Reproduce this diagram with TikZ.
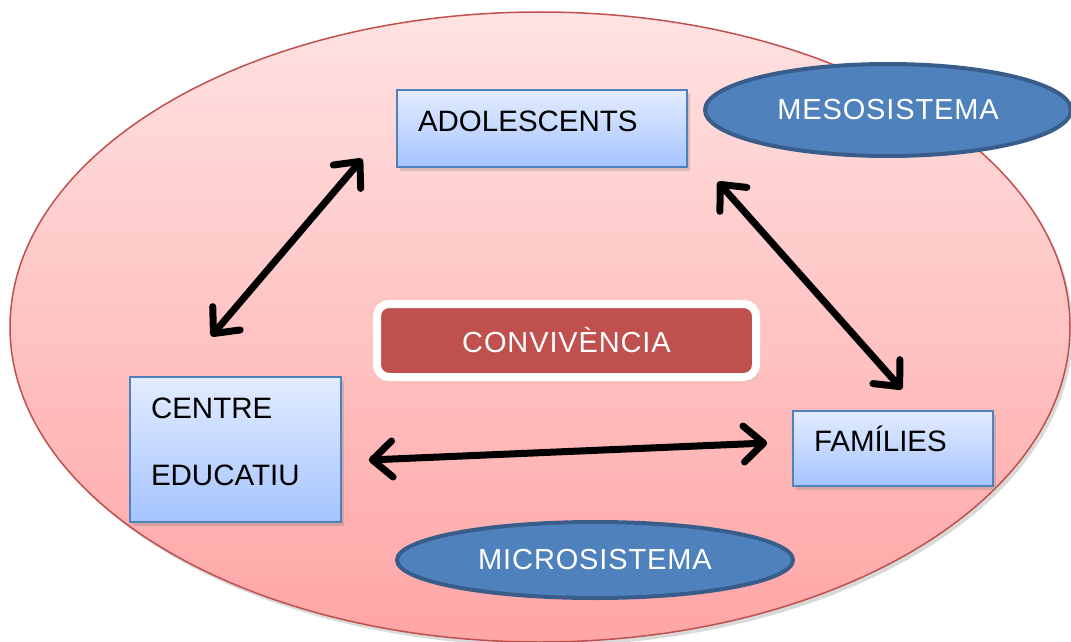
\documentclass[tikz,border=0pt]{standalone}
\usepackage{fontspec}
\setmainfont{Liberation Sans}
\newfontfamily\spacedfont[LetterSpace=3]{Liberation Sans}
\usetikzlibrary{arrows.meta}
\usetikzlibrary{calc}
\usetikzlibrary{shadows}
\usetikzlibrary{shapes.geometric}

\definecolor{boxline}{HTML}{4F81BD}
\definecolor{boxtop}{HTML}{E3ECFF}
\definecolor{boxbot}{HTML}{A5C4FF}
\definecolor{ringline}{HTML}{C0504D}
\definecolor{ringtop}{HTML}{FFE2E2}
\definecolor{ringbot}{HTML}{FFA5A5}
\definecolor{bluefill}{HTML}{4F81BD}
\definecolor{blueline}{HTML}{385D8A}
\definecolor{redfill}{HTML}{C0504D}

\tikzset{
    softshadow/.style={drop shadow={shadow xshift=3pt,shadow yshift=-4pt,opacity=0.3}},
    agent/.style={draw=boxline,line width=1.6pt,top color=boxtop,bottom color=boxbot,
        inner xsep=21pt,align=left,font=\fontsize{29.5}{67}\selectfont,softshadow},
    oneline/.style={text height=21pt,text depth=16pt},
    system/.style={ellipse,draw=blueline,line width=4pt,fill=bluefill,text=white,
        font=\spacedfont\fontsize{29}{34}\selectfont},
    link/.style={line width=7pt,line cap=round,
        {Straight Barb[length=20pt,width=36pt,line cap=round,line join=round]}-{Straight Barb[length=20pt,width=36pt,line cap=round,line join=round]}},
}

\begin{document}
\begin{tikzpicture}[x=1pt,y=-1pt]
    \useasboundingbox (0,0) rectangle (1071,642);

    % big ring
    \shade[top color=ringtop,bottom color=ringbot,softshadow] (540,327) ellipse [x radius=530pt,y radius=315pt];
    \draw[ringline,line width=1.5pt] (540,327) ellipse [x radius=530pt,y radius=315pt];

    \node (adol) at (542,128.5) [agent,oneline,minimum width=290pt,minimum height=77pt,text width=248pt] {ADOLESCENTS};
    \node (centre) at (235.5,449.5) [agent,text height=21pt,text depth=83pt,minimum width=211pt,minimum height=145pt,text width=169pt] {CENTRE\\EDUCATIU};
    \node (fam) at (893,448.5) [agent,oneline,minimum width=200pt,minimum height=75pt,text width=158pt] {FAMÍLIES};

    \node (conv) at (566.5,340.5) [draw=white,line width=8pt,fill=redfill,rounded corners=12pt,
        minimum width=379pt,minimum height=73pt,text=white,softshadow,
        font=\spacedfont\fontsize{29}{34}\selectfont] {CONVIVÈNCIA};

    \node (meso) at (888,110) [system,minimum width=366pt,minimum height=92pt] {MESOSISTEMA};
    \node (micro) at (595,560) [system,minimum width=396pt,minimum height=76pt] {MICROSISTEMA};

    % arrow ends
    \coordinate (ca) at ($(centre.north west)+(82,-40)$);
    \coordinate (ac) at ($(adol.south west)+(-34,-9)$);
    \coordinate (af) at ($(adol.south east)+(30,14)$);
    \coordinate (fa) at ($(fam.north)+(9,-21)$);
    \coordinate (cf) at ($(centre.east)+(27,10.5)$);
    \coordinate (fc) at ($(fam.west)+(-25,-5.5)$);

    \draw[link] (ca) -- (ac);
    \draw[link] (af) -- (fa);
    \draw[link] (cf) -- (fc);
\end{tikzpicture}
\end{document}
